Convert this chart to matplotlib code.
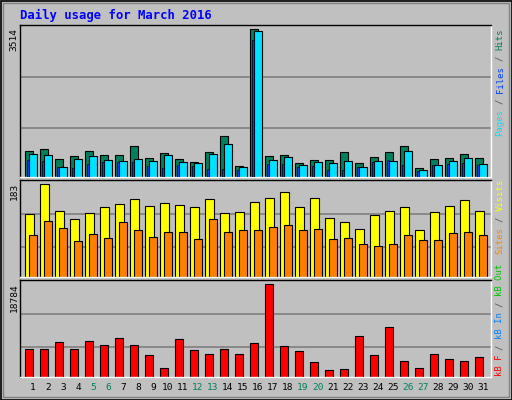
import matplotlib
matplotlib.use("Agg")
import matplotlib.pyplot as plt
import numpy as np

days = list(range(1, 32))
weekend_days = [5, 6, 12, 13, 19, 20, 26, 27]
hits = [628, 676, 437, 509, 628, 533, 533, 747, 461, 580, 437, 366, 604, 986, 270, 3514,
        509, 533, 342, 413, 413, 604, 342, 485, 604, 747, 223, 437, 461, 557, 461]
pages = [557, 533, 246, 437, 509, 413, 390, 437, 390, 533, 366, 342, 557, 795, 246, 3466,
         413, 485, 294, 366, 342, 390, 246, 390, 390, 628, 175, 294, 390, 461, 318]
files = [413, 390, 246, 223, 318, 366, 366, 366, 270, 223, 294, 270, 199, 199, 175, 3251,
         318, 318, 246, 270, 175, 175, 246, 366, 413, 294, 151, 294, 318, 342, 294]
visits = [125, 183, 131, 115, 127, 139, 145, 155, 141, 147, 143, 139, 155, 127, 129, 149,
          157, 167, 139, 157, 117, 109, 95, 123, 131, 139, 93, 129, 141, 153, 131]
sites = [82, 111, 97, 72, 84, 78, 109, 93, 80, 88, 88, 76, 115, 88, 92, 93,
         99, 103, 93, 95, 76, 78, 66, 62, 66, 82, 74, 74, 86, 89, 82]
kbytes = [5621, 5621, 7061, 5621, 7266, 6444, 7883, 6444, 4387, 1919, 7678, 5416, 4593, 5621,
          4593, 6855, 18784, 6238, 5210, 2948, 1508, 1714, 8294, 4387, 10145, 3153, 1919,
          4593, 3565, 3153, 3976]

BG = "#c0c0c0"
GRID = "#808080"
C_HITS, C_FILES, C_PAGES = "#00805c", "#0040ff", "#00e0ff"
C_VISITS, C_SITES, C_KB = "#ffff00", "#ff8000", "#ff0000"

W, H = 512, 400
fig = plt.figure(figsize=(5.12, 4.0), dpi=100, facecolor=BG)
x = np.array(days, dtype=float)

def make_ax(top_px, bot_px):
    ax = fig.add_axes([20 / W, 1 - bot_px / H, 471 / W, (bot_px - top_px) / H])
    ax.set_facecolor(BG)
    ax.set_xlim(0.133, 31.53)
    ax.set_xticks([]); ax.set_yticks([])
    for s in ax.spines.values():
        s.set_linewidth(1.0)
    ax.spines["right"].set_color("white")
    ax.spines["bottom"].set_color("white")
    ax.spines["left"].set_color("black")
    ax.spines["top"].set_color("black")
    return ax

def grid(ax, top, fr):
    ax.set_ylim(0, top)
    for f in fr:
        ax.axhline(top * f, color=GRID, lw=1.2, zorder=0)

kw = dict(edgecolor="black", linewidth=0.8, align="edge", zorder=2)

ax1 = make_ax(25, 177)
grid(ax1, max(hits) * 455 / 442, [0.325, 0.66])
ax1.bar(x - 0.53, hits, width=0.51, color=C_HITS, **kw)
ax1.bar(x - 0.25, pages, width=0.5, color=C_PAGES, **kw)
ax1.bar(x - 0.42, files, width=0.13, color=C_FILES, edgecolor="black", linewidth=0.5, align="edge", zorder=3)

ax2 = make_ax(180, 277)
grid(ax2, max(visits) * 289 / 276, [0.31, 0.654])
ax2.bar(x - 0.53, visits, width=0.58, color=C_VISITS, **kw)
ax2.bar(x - 0.25, sites, width=0.5, color=C_SITES, **kw)

ax3 = make_ax(280, 377)
grid(ax3, max(kbytes) * 286 / 274, [0.31, 0.654])
ax3.bar(x - 0.53, kbytes, width=0.51, color=C_KB, **kw)

mono = "DejaVu Sans Mono"
fig.text(20 / W, 1 - 15 / H, "Daily usage for March 2016", color="#0000ff",
         fontsize=8.8, fontweight="bold", family=mono, va="center", ha="left")

for d in days:
    fig.text((33 + (d - 1) * 15) / W, 1 - 388 / H, str(d), ha="center", va="center",
             fontsize=6.8, family=mono, color=C_HITS if d in weekend_days else "black")

for label, ytop in [(str(max(hits)), 28), (str(max(visits)), 183), (str(max(kbytes)), 283)]:
    fig.text(14 / W, 1 - ytop / H, label, rotation=90, rotation_mode="anchor",
             ha="right", va="center", fontsize=6.8, family=mono, color="black")

FS = 6.4
CW = FS * 100 / 72 * 0.602

def side(segs, ytop):
    y = ytop
    for t, c in segs:
        s = t.strip()
        lead = len(t) - len(t.lstrip())
        trail = len(t) - len(t.rstrip())
        fig.text(500 / W, 1 - (y + lead * CW) / H, s, rotation=90, rotation_mode="anchor",
                 ha="right", va="center", fontsize=FS, family=mono, color=c)
        y += len(t) * CW

side([("Hits", C_HITS), (" / ", "#505050"), ("Files", C_FILES), (" / ", "#505050"), ("Pages", C_PAGES)], 29)
side([("Visits", C_VISITS), (" / ", "#505050"), ("Sites", C_SITES)], 179)
side([("kB Out", "#00c000"), (" / ", "#505050"), ("kB In", "#0080ff"), (" / ", "#505050"), ("kB F", C_KB)], 264)

from matplotlib.patches import Rectangle
fig.patches.append(Rectangle((0.5 / W, 0.5 / H), 1 - 1 / W, 1 - 1 / H, transform=fig.transFigure,
                             fill=False, edgecolor="black", lw=1.2))
fig.patches.append(Rectangle((3 / W, 3 / H), 1 - 6 / W, 1 - 6 / H, transform=fig.transFigure,
                             fill=False, edgecolor="#808080", lw=1.0))

fig.savefig("out.png", dpi=100, facecolor=BG)
